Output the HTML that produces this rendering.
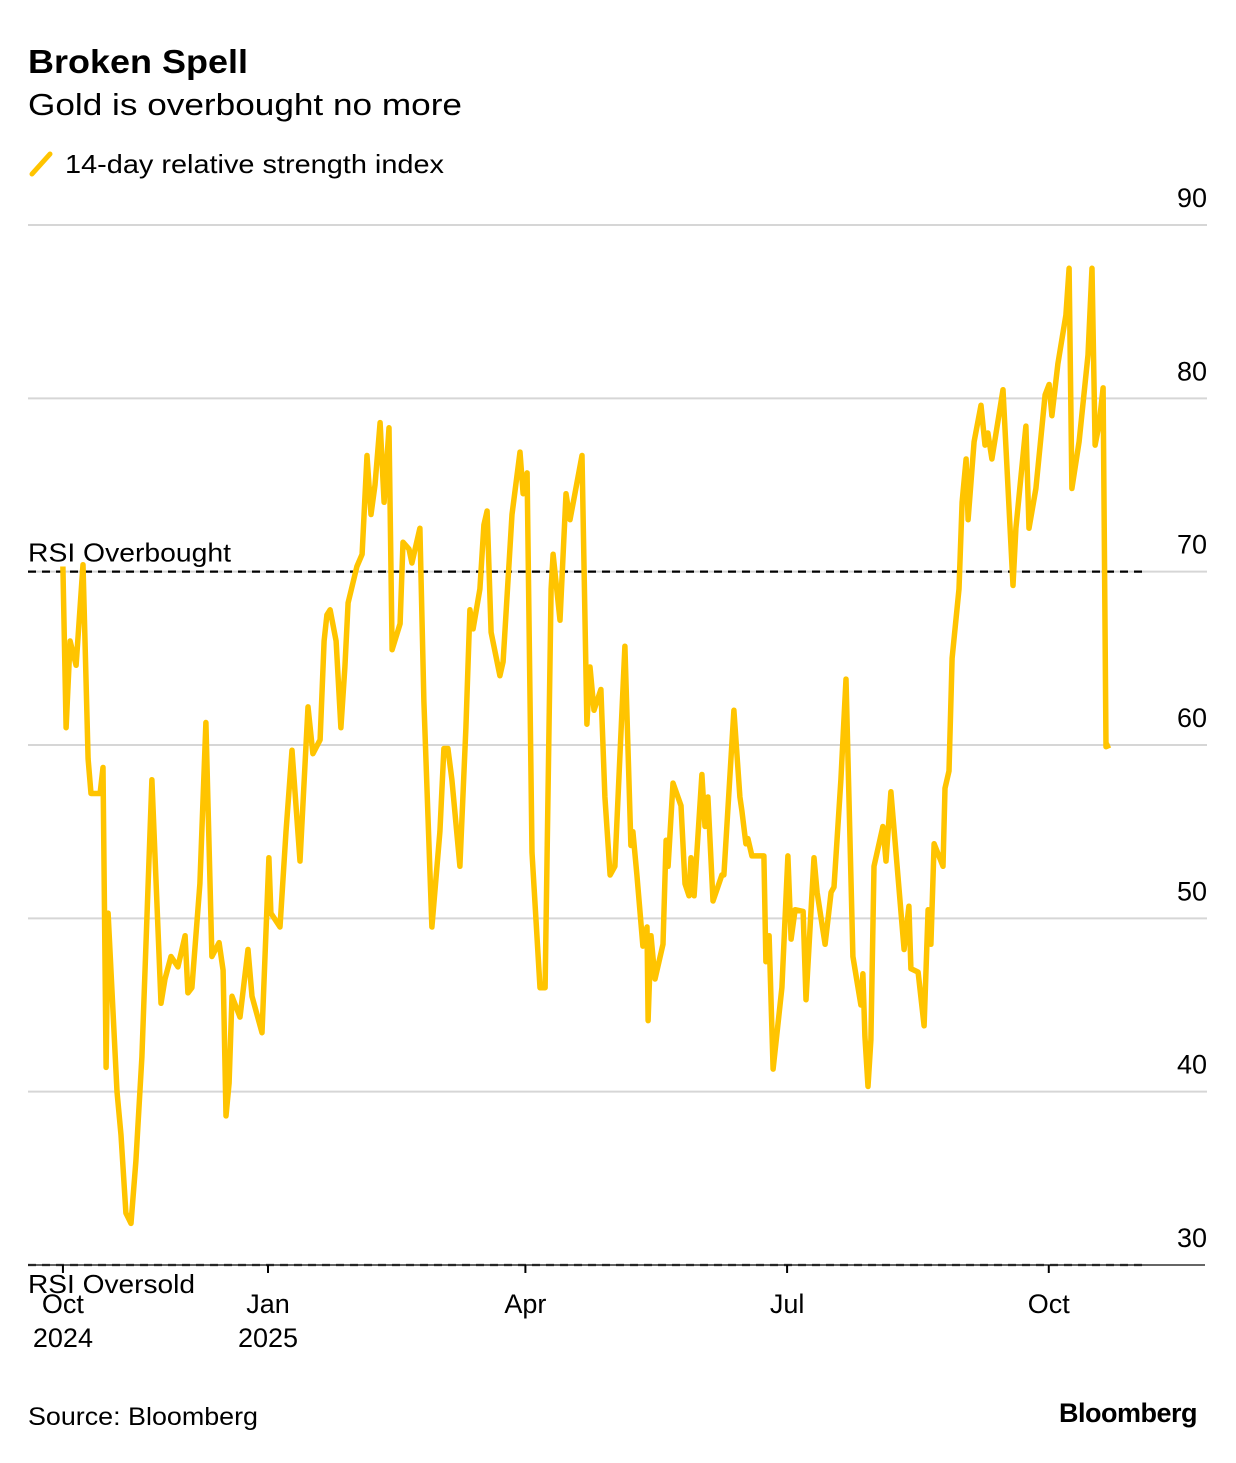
<!DOCTYPE html>
<html><head><meta charset="utf-8"><style>
body{margin:0;background:#fff;font-family:"Liberation Sans",Arial,sans-serif;}
svg text{font-family:"Liberation Sans",Arial,sans-serif;}
</style></head><body>
<svg id="chart" width="1236" height="1458" viewBox="0 0 1236 1458" xmlns="http://www.w3.org/2000/svg">
<text x="28" y="73" font-size="33" font-weight="bold" fill="#000" textLength="220" lengthAdjust="spacingAndGlyphs">Broken Spell</text>
<text x="28" y="115" font-size="31" fill="#000" textLength="434" lengthAdjust="spacingAndGlyphs">Gold is overbought no more</text>
<line x1="32" y1="174" x2="50" y2="154" stroke="#FFC400" stroke-width="5" stroke-linecap="round"/>
<text x="65" y="173" font-size="26" fill="#000" textLength="379" lengthAdjust="spacingAndGlyphs">14-day relative strength index</text>
<g id="grid"></g>
<g id="refs"></g>
<g id="series"></g>
<g id="xaxis"></g>
<text x="28" y="1425" font-size="25" fill="#000" textLength="230" lengthAdjust="spacingAndGlyphs">Source: Bloomberg</text>
<text x="1197" y="1422" font-size="27" font-weight="bold" text-anchor="end" fill="#000" letter-spacing="-0.5">Bloomberg</text>
</svg>
<script>
const yTicks=[30,40,50,60,70,80,90];
const xTickDays=[-71.7,0,90,181.5,273];
const xTickLabels=[["Oct","2024"],["Jan","2025"],["Apr"],["Jul"],["Oct"]];
const refLevels=[70,30];
const refLabels=["RSI Overbought","RSI Oversold"];
const days=[-71.7,-70.6,-69.2,-67.1,-64.7,-62.9,-61.9,-58.7,-57.7,-56.6,-55.9,-52.8,-51.4,-49.7,-47.9,-46.2,-44.1,-40.6,-37.4,-36.0,-33.9,-31.5,-29.0,-28.0,-26.6,-23.8,-21.7,-19.6,-17.1,-15.7,-14.7,-13.6,-12.6,-9.8,-7.0,-5.6,-2.1,0.3,1.0,4.2,6.3,8.4,11.2,14.0,15.7,18.2,19.6,20.6,21.7,23.8,25.5,26.9,28.0,31.1,32.9,34.6,36.0,37.4,39.2,40.6,42.3,43.4,46.2,47.2,49.3,50.3,53.1,54.5,57.3,60.1,61.5,62.9,64.3,67.1,69.2,70.6,71.7,74.1,75.5,76.6,78.0,81.1,82.2,85.3,88.1,89.2,90.6,92.3,95.1,96.9,99.0,99.7,102.1,104.2,105.6,107.3,109.8,111.5,112.6,114.0,116.4,117.8,119.6,121.3,124.8,126.9,127.6,129.0,131.1,132.5,132.9,133.9,135.3,138.1,139.2,139.9,141.6,144.4,145.8,147.2,147.9,149.0,151.7,152.8,153.8,155.6,158.7,159.4,162.9,165.0,165.7,167.1,167.8,169.2,173.4,174.1,175.2,176.6,179.7,181.8,182.9,184.3,187.1,188.1,190.9,192.0,194.8,196.9,197.9,200.3,202.1,204.5,207.3,208.0,208.7,209.8,210.8,211.9,215.0,216.1,217.8,222.4,224.1,224.8,227.3,229.4,230.8,231.8,232.9,236.0,236.7,238.1,239.2,241.6,242.7,244.1,244.8,246.9,249.3,250.7,251.7,253.1,257.0,260.5,261.5,265.0,266.1,268.5,271.7,273.1,274.1,276.2,279.0,280.1,281.1,283.6,286.7,288.1,289.2,290.6,292.0,293.0,294.4];
const rsi=[70.3,61.0,66.0,64.6,70.4,59.2,57.2,57.2,58.7,41.4,50.3,40,37.5,33,32.4,36,42,58.0,45.1,46.5,47.8,47.2,49,45.7,46,52,61.3,47.8,48.6,47,38.6,40.5,45.5,44.3,48.2,45.5,43.4,53.5,50.3,49.5,55,59.7,53.3,62.2,59.5,60.3,66,67.5,67.8,66,61,64.5,68.2,70.3,71,76.7,73.3,75,78.6,74,78.3,65.5,67,71.7,71.3,70.5,72.5,62.5,49.5,55,59.8,59.8,58,53,61,67.8,66.7,69,72.7,73.5,66.5,64,64.8,73.3,76.9,74.5,75.7,53.8,46,46,69,71,67.2,74.5,73,74.5,76.7,61.2,64.5,62,63.2,57,52.5,53,65.7,54.2,55,52.5,48.4,49.5,44.1,49,46.5,48.5,54.5,53,57.8,56.5,52,51.3,53.5,51.3,58.3,55.3,57,51,52.5,52.5,62,57,56.2,54.3,54.6,53.6,53.6,47.5,49,41.3,46,53.6,48.8,50.5,50.4,45.3,53.5,51.5,48.5,51.5,51.8,58,63.8,47.8,45,46.8,43.2,40.3,43,53,55.3,53.3,57.3,48.2,50.7,47.1,46.9,43.8,50.5,48.5,54.3,53,57.5,58.5,65,69,74,76.5,73,77.5,79.6,77.3,78,76.5,80.5,69.2,72.5,78.4,72.5,74.8,80.2,80.8,79,82,84.8,87.5,74.8,77.5,82.5,87.5,77.3,78.5,80.6,59.9,60];
const NS="http://www.w3.org/2000/svg";
const X0=28,X1=1207;
function xs(d){return 268+d*2.86;}
function ys(v){return 225+(90-v)*17.333;}
function mk(tag,attrs,parent){const e=document.createElementNS(NS,tag);for(const k in attrs)e.setAttribute(k,attrs[k]);parent.appendChild(e);return e;}
const grid=document.getElementById('grid');
yTicks.forEach(v=>{
  if(v!==30){const l=mk('line',{x1:X0,x2:X1,y1:ys(v),y2:ys(v),stroke:'#d6d6d6','stroke-width':2},grid);
  
  }
  const t=mk('text',{x:X1,y:ys(v)-18,'font-size':27,'text-anchor':'end',fill:'#000'},grid);
  t.textContent=v;
  
  
});
const refs=document.getElementById('refs');
refLevels.forEach((v,i)=>{
  const l=mk('line',{x1:X0,x2:1142,y1:ys(v),y2:ys(v),stroke:'#000','stroke-width':2.2,'stroke-dasharray':'8 6'},refs);
  
  
  const t=mk('text',{x:X0,y:ys(v)-10+(v===30?38:0),'font-size':26,fill:'#000',textLength:(v===30?167:203),lengthAdjust:'spacingAndGlyphs'},refs);
  t.textContent=refLabels[i];
  
  
});
const xa=document.getElementById('xaxis');
const ax=mk('line',{x1:X0,x2:X1-2,y1:ys(30),y2:ys(30),stroke:'#333','stroke-width':1.5},xa);


xTickDays.forEach((d,i)=>{
  const tk=mk('line',{x1:xs(d),x2:xs(d),y1:ys(30),y2:ys(30)+8,stroke:'#000','stroke-width':2},xa);
  
  
  xTickLabels[i].forEach((s,j)=>{
    const t=mk('text',{x:xs(d),y:1313+j*34,'font-size':27,'text-anchor':'middle',fill:'#000'},xa);
    t.textContent=s;
    
    
  });
});
const p=mk('polyline',{points:days.map((d,i)=>xs(d).toFixed(1)+','+ys(rsi[i]).toFixed(1)).join(' '),fill:'none',stroke:'#FFC400','stroke-width':5.5,'stroke-linejoin':'round'},document.getElementById('series'));


</script>
</body></html>
